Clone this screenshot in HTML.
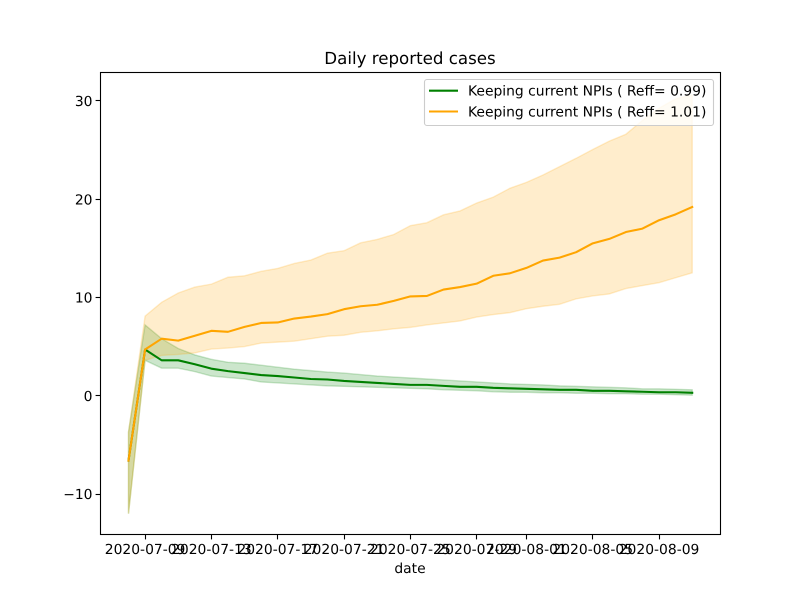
<!DOCTYPE html>
<html lang="en">
<head>
<meta charset="utf-8">
<title>Daily reported cases</title>
<style>
  html, body { margin: 0; padding: 0; background: #fff; }
  #chart { display: block; width: 800px; height: 600px; }
  text { font-family: "DejaVu Sans", "Liberation Sans", sans-serif; fill: #000; text-rendering: geometricPrecision; }
</style>
</head>
<body>
<svg id="chart" xmlns="http://www.w3.org/2000/svg" width="800" height="600" viewBox="0 0 800 600">
  <rect x="0" y="0" width="800" height="600" fill="#fff"/>
  <text x="410" y="64" font-size="16.67" text-anchor="middle">Daily reported cases</text>
  <g id="bands"></g>
  <g id="lines"></g>
  <g id="x-ticks"></g>
  <g id="y-ticks"></g>
  <rect x="100.5" y="72.5" width="620" height="462" fill="none" stroke="#000" stroke-width="1.1"/>
  <text x="410" y="573" font-size="13.89" text-anchor="middle">date</text>
  <g>
    <rect x="424.5" y="79.5" width="289" height="46" rx="2.5" ry="2.5" fill="#fff" fill-opacity="0.8" stroke="#ccc" stroke-width="1.1"/>
    <line x1="429" y1="90.7" x2="458" y2="90.7" stroke="#008000" stroke-width="2.08"/>
    <text x="468" y="95.5" font-size="13.89">Keeping current NPIs ( Reff= 0.99)</text>
    <line x1="429" y1="111.5" x2="458" y2="111.5" stroke="#ffa500" stroke-width="2.08"/>
    <text x="468" y="116.3" font-size="13.89">Keeping current NPIs ( Reff= 1.01)</text>
  </g>
</svg>
<script>
var dates = ["2020-07-08","2020-07-09","2020-07-10","2020-07-11","2020-07-12","2020-07-13","2020-07-14","2020-07-15","2020-07-16","2020-07-17","2020-07-18","2020-07-19","2020-07-20","2020-07-21","2020-07-22","2020-07-23","2020-07-24","2020-07-25","2020-07-26","2020-07-27","2020-07-28","2020-07-29","2020-07-30","2020-07-31","2020-08-01","2020-08-02","2020-08-03","2020-08-04","2020-08-05","2020-08-06","2020-08-07","2020-08-08","2020-08-09","2020-08-10","2020-08-11"];
var greenMedian = [-6.6,4.7,3.6,3.6,3.2,2.75,2.5,2.3,2.1,2.0,1.85,1.7,1.65,1.5,1.4,1.3,1.2,1.1,1.1,1.0,0.9,0.9,0.8,0.75,0.7,0.65,0.6,0.6,0.5,0.5,0.45,0.4,0.35,0.35,0.3];
var greenUpper = [-3.7,7.2,5.8,4.8,4.15,3.7,3.4,3.3,3.1,2.9,2.7,2.55,2.4,2.3,2.15,2.0,1.9,1.8,1.7,1.6,1.5,1.4,1.3,1.2,1.15,1.1,1.0,0.95,0.9,0.85,0.8,0.7,0.7,0.65,0.6];
var greenLower = [-12.0,3.6,2.8,2.8,2.45,2.0,1.85,1.7,1.4,1.3,1.2,1.1,1.0,0.95,0.9,0.85,0.8,0.75,0.7,0.6,0.55,0.5,0.4,0.35,0.35,0.3,0.3,0.25,0.25,0.2,0.2,0.15,0.15,0.1,0.05];
var orangeMedian = [-6.6,4.7,5.8,5.6,6.1,6.6,6.5,7.0,7.4,7.45,7.85,8.05,8.3,8.8,9.1,9.25,9.65,10.1,10.15,10.8,11.05,11.4,12.2,12.45,13.0,13.75,14.05,14.6,15.5,15.95,16.65,17.0,17.85,18.45,19.2];
var orangeUpper = [-3.7,8.1,9.5,10.45,11.05,11.35,12.05,12.2,12.65,12.95,13.45,13.8,14.5,14.75,15.55,15.9,16.4,17.3,17.6,18.4,18.8,19.6,20.2,21.1,21.7,22.45,23.3,24.15,25.05,25.9,26.6,28.0,29.25,30.2,30.6];
var orangeLower = [-12.0,3.6,4.1,4.2,4.35,4.75,4.85,5.0,5.35,5.45,5.55,5.8,6.05,6.15,6.45,6.6,6.8,6.95,7.2,7.4,7.6,8.0,8.25,8.45,8.85,9.1,9.3,9.85,10.15,10.35,10.9,11.2,11.5,12.0,12.5];
var xTickDates = ["2020-07-09","2020-07-13","2020-07-17","2020-07-21","2020-07-25","2020-07-29","2020-08-01","2020-08-05","2020-08-09"];
var yTickValues = [-10,0,10,20,30];

var NS = "http://www.w3.org/2000/svg";
var DAY = 86400000;
var START = Date.parse(dates[0]);

function xScale(dateStr) {
  return 128.5 + 16.58 * (Date.parse(dateStr) - START) / DAY;
}
function yScale(v) {
  return 395.7 - 9.83 * v;
}
function make(tag, parent) {
  var el = document.createElementNS(NS, tag);
  parent.appendChild(el);
  return el;
}
function linePoints(values) {
  return values.map(function (v, i) {
    return xScale(dates[i]).toFixed(2) + "," + yScale(v).toFixed(2);
  });
}

var bandsGroup = document.getElementById("bands");
var linesGroup = document.getElementById("lines");

function drawSeries(color, upper, lower, median, key) {
  var band = make("polygon", bandsGroup);
  
  
  band.setAttribute("data-series", key);
  band.setAttribute("points", linePoints(upper).concat(linePoints(lower).reverse()).join(" "));
  band.setAttribute("fill", color);
  band.setAttribute("fill-opacity", "0.2");
  band.setAttribute("stroke", color);
  band.setAttribute("stroke-opacity", "0.2");
  band.setAttribute("stroke-width", "1.4");

  var line = make("polyline", linesGroup);
  
  
  line.setAttribute("data-series", key);
  line.setAttribute("points", linePoints(median).join(" "));
  line.setAttribute("fill", "none");
  line.setAttribute("stroke", color);
  line.setAttribute("stroke-width", "2.08");
  line.setAttribute("stroke-linejoin", "round");
  line.setAttribute("stroke-linecap", "square");
}
drawSeries("#008000", greenUpper, greenLower, greenMedian, "green");
drawSeries("#ffa500", orangeUpper, orangeLower, orangeMedian, "orange");

var xTicksGroup = document.getElementById("x-ticks");
xTickDates.forEach(function (d) {
  var px = Math.floor(xScale(d)) + 0.5;
  var tick = make("line", xTicksGroup);
  
  
  tick.setAttribute("x1", px);
  tick.setAttribute("x2", px);
  tick.setAttribute("y1", 534.5);
  tick.setAttribute("y2", 539.4);
  tick.setAttribute("stroke", "#000");
  tick.setAttribute("stroke-width", "1.1");
  var label = make("text", xTicksGroup);
  
  
  label.setAttribute("x", xScale(d).toFixed(2));
  label.setAttribute("y", 554);
  label.setAttribute("font-size", "13.89");
  label.setAttribute("text-anchor", "middle");
  label.textContent = d;
});

var yTicksGroup = document.getElementById("y-ticks");
yTickValues.forEach(function (v) {
  var py = Math.floor(yScale(v)) + 0.5;
  var tick = make("line", yTicksGroup);
  
  
  tick.setAttribute("x1", 95.6);
  tick.setAttribute("x2", 100.5);
  tick.setAttribute("y1", py);
  tick.setAttribute("y2", py);
  tick.setAttribute("stroke", "#000");
  tick.setAttribute("stroke-width", "1.1");
  var label = make("text", yTicksGroup);
  
  
  label.setAttribute("x", 92.5);
  label.setAttribute("y", (yScale(v) + 5.2).toFixed(2));
  label.setAttribute("font-size", "13.89");
  label.setAttribute("text-anchor", "end");
  label.textContent = v < 0 ? "\u2212" + Math.abs(v) : String(v);
});
</script>
</body>
</html>
